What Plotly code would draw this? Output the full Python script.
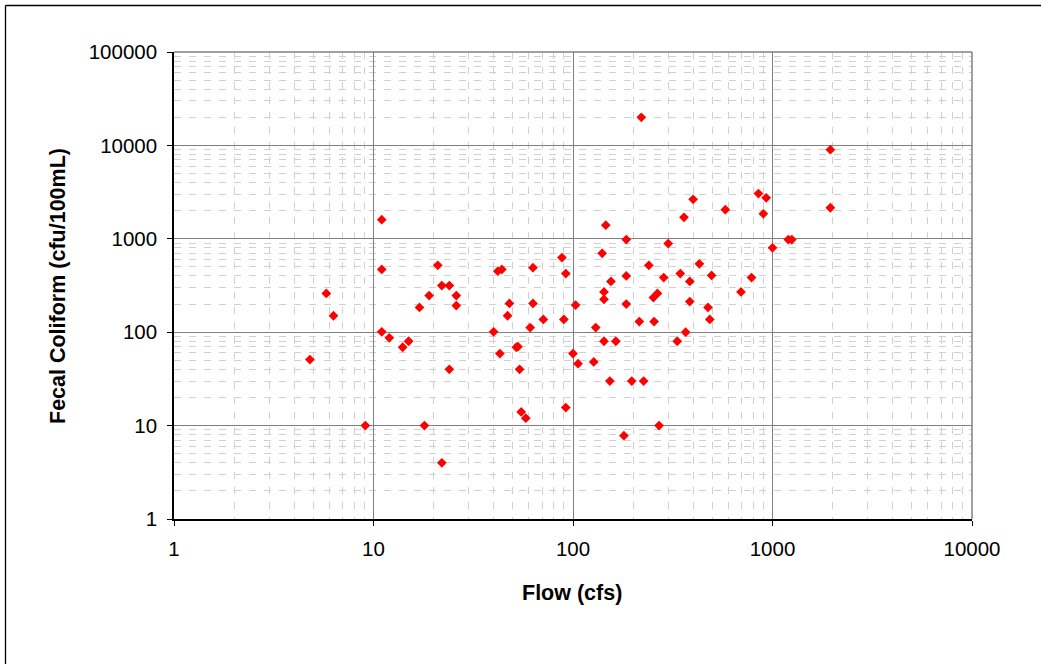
import plotly.graph_objects as go

# Flow (cfs) and fecal coliform (cfu/100mL)
flow = [11, 11, 21, 22, 24, 42, 44, 63, 88, 92,
        220, 1950, 1950, 146, 185, 140, 300, 400, 360, 580,
        850, 930, 900, 1000, 1200, 1250, 240, 430, 185, 155,
        285, 345, 385, 495, 785, 143, 143, 185, 103, 253,
        265, 385, 475, 485, 215, 255, 130, 367, 143, 164,
        333, 100, 106, 127, 153, 197, 226, 270, 180, 5.8,
        19, 26, 26, 17, 6.3, 48, 63, 47, 71, 90,
        61, 11, 40, 12, 15, 14, 52, 53, 43, 4.8,
        24, 54, 92, 55, 58, 9.1, 18, 22, 695]
coliform = [1600, 470, 520, 316, 316, 450, 470, 490, 630, 425,
            20000, 9000, 2150, 1400, 980, 700, 890, 2650, 1700, 2050,
            3050, 2750, 1850, 800, 980, 980, 520, 540, 400, 350,
            385, 425, 350, 405, 385, 270, 225, 200, 195, 235,
            260, 213, 184, 137, 130, 130, 112, 100, 80, 80,
            80, 59, 46, 48, 30, 30, 30, 10, 7.8, 260,
            247, 247, 193, 184, 150, 203, 203, 150, 137, 137,
            112, 101, 101, 87, 80, 69, 69, 70, 59, 51,
            40, 40, 15.6, 14, 12, 10, 10, 4, 270]

x_ticks = [1, 10, 100, 1000, 10000]
y_ticks = [1, 10, 100, 1000, 10000, 100000]
x_minor = [m * d for d in [1, 10, 100, 1000] for m in range(2, 10)]
y_minor = [m * d for d in [1, 10, 100, 1000, 10000] for m in range(2, 10)]

FONT = "Arial, Liberation Sans, sans-serif"

fig = go.Figure()
fig.add_trace(go.Scatter(
    x=flow, y=coliform, mode="markers",
    marker=dict(symbol="diamond", size=7.5, color="#FF0000", line=dict(width=0)),
    showlegend=False, hoverinfo="x+y"))

axis_common = dict(
    type="log", showgrid=True, gridcolor="#808080", gridwidth=1,
    showline=True, linecolor="#000000", linewidth=1.5, mirror=False,
    ticks="outside", ticklen=5, tickcolor="#000000", tickwidth=1,
    tickfont=dict(family=FONT, size=20.5, color="#000000"),
    zeroline=False,
)

fig.update_xaxes(
    **axis_common, range=[0, 4], tickmode="array",
    tickvals=x_ticks, ticktext=[str(v) for v in x_ticks],
    ticklabelstandoff=6,
    minor=dict(tickmode="array", tickvals=x_minor, showgrid=True,
               gridcolor="#d0d0d0", griddash="7px,8px", gridwidth=1, ticks=""),
)
fig.update_yaxes(
    **axis_common, range=[0, 5], tickmode="array",
    tickvals=y_ticks, ticktext=[str(v) for v in y_ticks],
    ticklabelstandoff=6,
    minor=dict(tickmode="array", tickvals=y_minor, showgrid=True,
               gridcolor="#d0d0d0", griddash="7px,8px", gridwidth=1, ticks=""),
)

L, R, T, B = 174, 69, 52, 145
W, H = 1041, 664
pw, ph = W - L - R, H - T - B

def px_x(p):
    return (p - L) / pw

def px_y(p):
    return (H - B - p) / ph

shapes = [
    # top and right plot-area edges in gray
    dict(type="line", xref="paper", yref="paper", x0=0, x1=1, y0=1, y1=1,
         line=dict(color="#808080", width=1.5)),
    dict(type="line", xref="paper", yref="paper", x0=1, x1=1, y0=0, y1=1,
         line=dict(color="#808080", width=1.5)),
    # outer chart border: only left and top sides are within the picture
    dict(type="line", xref="paper", yref="paper",
         x0=px_x(5.5), x1=px_x(5.5), y0=px_y(700), y1=px_y(5.5),
         line=dict(color="#000000", width=1.3), layer="below"),
    dict(type="line", xref="paper", yref="paper",
         x0=px_x(5.5), x1=px_x(1100), y0=px_y(5.5), y1=px_y(5.5),
         line=dict(color="#000000", width=1.3), layer="below"),
]

annotations = [
    dict(text="<b>Flow (cfs)</b>", xref="paper", yref="paper",
         x=px_x(572), y=px_y(593), xanchor="center", yanchor="middle",
         showarrow=False, font=dict(family=FONT, size=21.5, color="#000000")),
    dict(text="<b>Fecal Coliform (cfu/100mL)</b>", xref="paper", yref="paper",
         x=px_x(58), y=px_y(286), xanchor="center", yanchor="middle", textangle=-90,
         showarrow=False, font=dict(family=FONT, size=21.5, color="#000000")),
]

fig.update_layout(
    width=W, height=H,
    margin=dict(l=L, r=R, t=T, b=B, pad=0),
    paper_bgcolor="#FFFFFF", plot_bgcolor="#FFFFFF",
    shapes=shapes, annotations=annotations,
    font=dict(family=FONT, color="#000000"),
)

fig.write_html(
    "out.html",
    config={"displayModeBar": False},
    post_script="document.documentElement.style.overflow='hidden';"
                "document.body.style.margin='0';document.body.style.padding='0';"
                "document.body.style.overflow='hidden';",
)
